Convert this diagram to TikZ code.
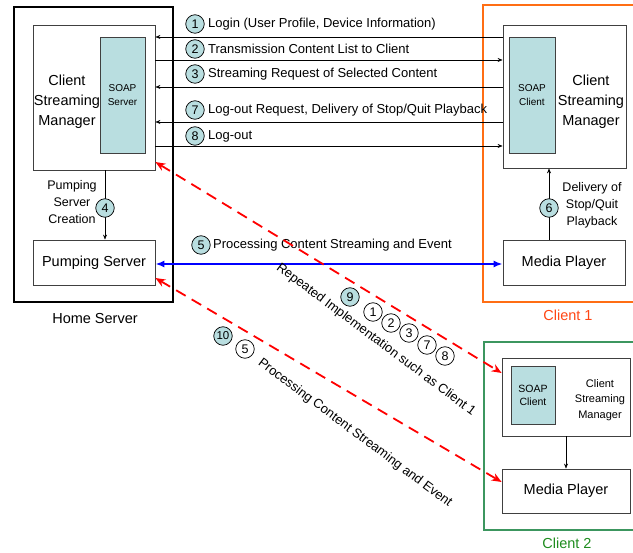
\documentclass[tikz,border=0pt]{standalone}
\usepackage{fontspec}
\setmainfont{Liberation Sans}
\usetikzlibrary{arrows.meta}
\definecolor{soap}{RGB}{185,222,224}
\definecolor{orng}{RGB}{255,110,20}
\definecolor{orngtxt}{RGB}{255,70,20}
\definecolor{grn}{RGB}{60,150,95}
\definecolor{grntxt}{RGB}{30,140,30}
\begin{document}
\begin{tikzpicture}[x=1pt,y=-1pt,
  box/.style={draw=black!75,fill=white,line width=0.8pt,inner sep=0pt},
  soapbox/.style={draw=black!75,fill=soap,line width=0.8pt,inner sep=0pt,align=center,font=\fontsize{10}{14}\selectfont},
  bigtxt/.style={font=\fontsize{14.5}{20}\selectfont,align=center,inner sep=0pt},
  lab/.style={anchor=west,inner sep=0pt,font=\fontsize{13}{13}\selectfont},
  small/.style={inner sep=0pt,align=center,font=\fontsize{12.5}{17}\selectfont},
  numc/.style={circle,draw,line width=0.7pt,fill=soap,inner sep=0pt,minimum size=18.5pt,font=\fontsize{12.5}{12.5}\selectfont},
  numw/.style={numc,fill=white},
  msg/.style={draw=black,line width=0.6pt,-{Stealth[length=5pt,width=4pt]}},
  reddash/.style={draw=red,line width=1.8pt,dash pattern=on 11pt off 7pt,{Stealth[length=10pt,width=8pt]}-{Stealth[length=10pt,width=8pt]}},
  bluearr/.style={draw=blue,line width=2pt,{Latex[length=9pt,width=7pt]}-{Latex[length=9pt,width=7pt]}}
]
\useasboundingbox (0,0) rectangle (633,553);
\clip (0,0) rectangle (633,553);

% Home server
\node[draw=black,line width=2.8pt,inner sep=0pt,minimum width=159pt,minimum height=295pt] (home) at (93.5,154.5) {};
\node[box,minimum width=122pt,minimum height=145pt] (hcsm) at (94,97.5) {};
\node[soapbox,minimum width=45pt,minimum height=116pt] (hsoap) at (122.5,95) {SOAP\\Server};
\node[bigtxt] (hcsmt) at (67,102) {Client\\Streaming\\Manager};
\node[box,minimum width=122pt,minimum height=45pt,font=\fontsize{14.5}{14.5}\selectfont] (pump) at (94,262.5) {Pumping Server};
\node[inner sep=0pt,font=\fontsize{14.5}{14.5}\selectfont] (homel) at (95,319) {Home Server};

% Client 1
\node[draw=orng,line width=2.8pt,inner sep=0pt,minimum width=162pt,minimum height=297pt] (cl1) at (564,153.5) {};
\node[box,minimum width=123pt,minimum height=143pt] (c1csm) at (564.5,96.5) {};
\node[soapbox,minimum width=46pt,minimum height=116pt] (c1soap) at (532,95) {SOAP\\Client};
\node[bigtxt] (c1csmt) at (591,102) {Client\\Streaming\\Manager};
\node[box,minimum width=122pt,minimum height=45pt,font=\fontsize{14.5}{14.5}\selectfont] (mp1) at (564,262.5) {Media Player};
\node[inner sep=0pt,text=orngtxt,font=\fontsize{14.5}{14.5}\selectfont] (cl1l) at (568,315) {Client 1};

% Client 2
\node[draw=grn,line width=2.8pt,inner sep=0pt,minimum width=161pt,minimum height=188pt] (cl2) at (564.5,436) {};
\node[box,minimum width=128pt,minimum height=78pt] (c2csm) at (566,397) {};
\node[soapbox,minimum width=44pt,minimum height=58pt,font=\fontsize{10.5}{13}\selectfont] (c2soap) at (533,395) {SOAP\\Client};
\node[inner sep=0pt,align=center,font=\fontsize{11}{15.5}\selectfont] (c2csmt) at (600,400) {Client\\Streaming\\Manager};
\node[box,minimum width=128pt,minimum height=44pt,font=\fontsize{14.5}{14.5}\selectfont] (mp2) at (566,491) {Media Player};
\node[inner sep=0pt,text=grntxt,font=\fontsize{14.5}{14.5}\selectfont] (cl2l) at (567,543) {Client 2};

% messages
\draw[msg] (c1csm.west |- 0,37) -- (hcsm.east |- 0,37);
\draw[msg] (hcsm.east |- 0,60) -- (c1csm.west |- 0,60);
\draw[msg] (c1csm.west |- 0,87) -- (hcsm.east |- 0,87);
\draw[msg] (c1csm.west |- 0,122) -- (hcsm.east |- 0,122);
\draw[msg] (hcsm.east |- 0,146) -- (c1csm.west |- 0,146);
\node[numc] (n1) at (195,24) {1};
\node[lab] (l1) at (208,24) {Login (User Profile, Device Information)};
\node[numc] (n2) at (195,49) {2};
\node[lab] (l2) at (208,49) {Transmission Content List to Client};
\node[numc] (n3) at (195,74) {3};
\node[lab] (l3) at (208,74) {Streaming Request of Selected Content};
\node[numc] (n7) at (195,110) {7};
\node[lab] (l7) at (208,110) {Log-out Request, Delivery of Stop/Quit Playback};
\node[numc] (n8) at (195,136) {8};
\node[lab] (l8) at (208,136) {Log-out};

% pumping creation
\draw[msg] (hcsm.south -| 105,0) -- (pump.north -| 105,0);
\node[numc] (n4) at (105,208) {4};
\node[small] (l4) at (72,202) {Pumping\\Server\\Creation};

% delivery of stop
\draw[msg] (mp1.north -| 549,0) -- (c1csm.south -| 549,0);
\node[numc] (n6) at (549,208) {6};
\node[small] (l6) at (592,205) {Delivery of\\Stop/Quit\\Playback};

% client2 internal
\draw[msg] (c2csm.south) -- (mp2.north);

% blue streaming
\draw[bluearr] (pump.east |- 0,264) -- (mp1.west |- 0,264);
\node[numc] (n5) at (201,245) {5};
\node[lab] (l5) at (213,245) {Processing Content Streaming and Event};

% red dashed
\draw[reddash] (hcsm.east |- 0,162) -- (c2csm.west |- 0,373);
\draw[reddash] (pump.east |- 0,278) -- (mp2.west |- 0,482);

% rotated labels
\node[inner sep=0pt,rotate=-36.8,font=\fontsize{13}{13}\selectfont] (r9) at (376,340) {Repeated Implementation such as Client 1};
\node[numc] (n9) at (350,297) {9};
\node[numw] (m1) at (373,312) {1};
\node[numw] (m2) at (391,323) {2};
\node[numw] (m3) at (409,333) {3};
\node[numw] (m7) at (427,345) {7};
\node[numw] (m8) at (445,356) {8};

\node[numc,font=\fontsize{11.5}{11.5}\selectfont] (n10) at (223,336) {10};
\node[numw] (m5) at (245,349) {5};
\node[inner sep=0pt,rotate=-36.8,font=\fontsize{13}{13}\selectfont] (r10) at (355,433) {Processing Content Streaming and Event};
\end{tikzpicture}
\end{document}
